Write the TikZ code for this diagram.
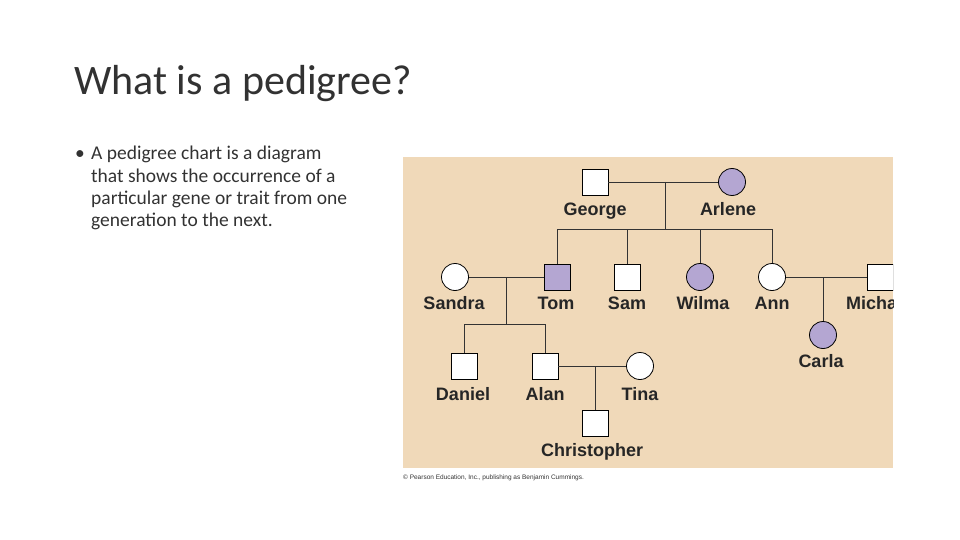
\documentclass[tikz,border=0pt]{standalone}
\usepackage{fontspec}
\setmainfont{Carlito}
\newfontfamily\lab{Liberation Sans}
\definecolor{beige}{RGB}{240,217,185}
\definecolor{purp}{RGB}{180,166,210}
\definecolor{txt}{RGB}{50,50,50}
\begin{document}
\begin{tikzpicture}[x=1pt,y=-1pt,
  male/.style={draw=black,line width=0.8pt,fill=white,minimum size=26pt,inner sep=0pt},
  fem/.style={circle,draw=black,line width=0.8pt,fill=white,minimum size=27pt,inner sep=0pt},
  aff/.style={fill=purp},
  nm/.style={font=\lab\bfseries\fontsize{18}{18}\selectfont,text=black!85,inner sep=0pt,anchor=base},
  ln/.style={line width=0.9pt,black!80}]
\useasboundingbox (0,0) rectangle (960,540);
\node[anchor=base west,font=\fontsize{42}{42}\selectfont,text=txt,inner sep=0pt] (title) at (74,95) {What is a pedigree?};
\node[anchor=north west,align=left,font=\fontsize{19.5}{22.3}\selectfont,text=txt,inner sep=0pt] (body) at (75,146)
 {\makebox[16pt][l]{•}A pedigree chart is a diagram\\
  \hspace*{16pt}that shows the occurrence of a\\
  \hspace*{16pt}particular gene or trait from one\\
  \hspace*{16pt}generation to the next.};
\begin{scope}
\clip (403,157) rectangle (893,468);
\fill[beige] (403,157) rectangle (893,468);
% nodes
\node[male] (george) at (595,182) {};
\node[fem,aff] (arlene) at (732,182) {};
\node[fem] (sandra) at (455,277) {};
\node[male,aff] (tom) at (557,277) {};
\node[male] (sam) at (627,277) {};
\node[fem,aff] (wilma) at (700,277) {};
\node[fem] (ann) at (772,277) {};
\node[male] (michael) at (880,277) {};
\node[fem,aff] (carla) at (823,335) {};
\node[male] (daniel) at (464,366) {};
\node[male] (alan) at (545,366) {};
\node[fem] (tina) at (640,366) {};
\node[male] (chris) at (595,423) {};
% lines
\coordinate (m1) at (665,182);
\coordinate (s1) at (665,229);
\draw[ln] (george) -- (arlene);
\draw[ln] (m1) -- (s1);
\draw[ln] (tom.north|-s1) -- (ann.north|-s1);
\draw[ln] (tom.north|-s1) -- (tom.north);
\draw[ln] (sam.north|-s1) -- (sam.north);
\draw[ln] (wilma.north|-s1) -- (wilma.north);
\draw[ln] (ann.north|-s1) -- (ann.north);
\coordinate (m2) at (506,277);
\coordinate (s2) at (506,324);
\draw[ln] (sandra) -- (tom);
\draw[ln] (m2) -- (s2);
\draw[ln] (daniel.north|-s2) -- (alan.north|-s2);
\draw[ln] (daniel.north|-s2) -- (daniel.north);
\draw[ln] (alan.north|-s2) -- (alan.north);
\coordinate (m3) at (823,277);
\draw[ln] (ann) -- (michael);
\draw[ln] (m3) -- (carla.north);
\coordinate (m4) at (595,366);
\draw[ln] (alan) -- (tina);
\draw[ln] (m4) -- (chris.north);
% labels
\node[nm] (lg) at (595,215) {George};
\node[nm] (la) at (728,215) {Arlene};
\node[nm] (ls) at (454,309) {Sandra};
\node[nm] (lt) at (556,309) {Tom};
\node[nm] (lsa) at (627,309) {Sam};
\node[nm] (lw) at (703,309) {Wilma};
\node[nm] (lan) at (772,309) {Ann};
\node[nm,anchor=base west] (lm) at (846,309) {Michael};
\node[nm] (lc) at (821,367) {Carla};
\node[nm] (ld) at (463,400) {Daniel};
\node[nm] (lal) at (545,400) {Alan};
\node[nm] (lti) at (640,400) {Tina};
\node[nm] (lch) at (592,456) {Christopher};
\end{scope}
\node[anchor=west,font=\lab\fontsize{6.5}{6.5}\selectfont,inner sep=0pt,text=black!80] (copy) at (403,478) {© Pearson Education, Inc., publishing as Benjamin Cummings.};
\end{tikzpicture}
\end{document}
